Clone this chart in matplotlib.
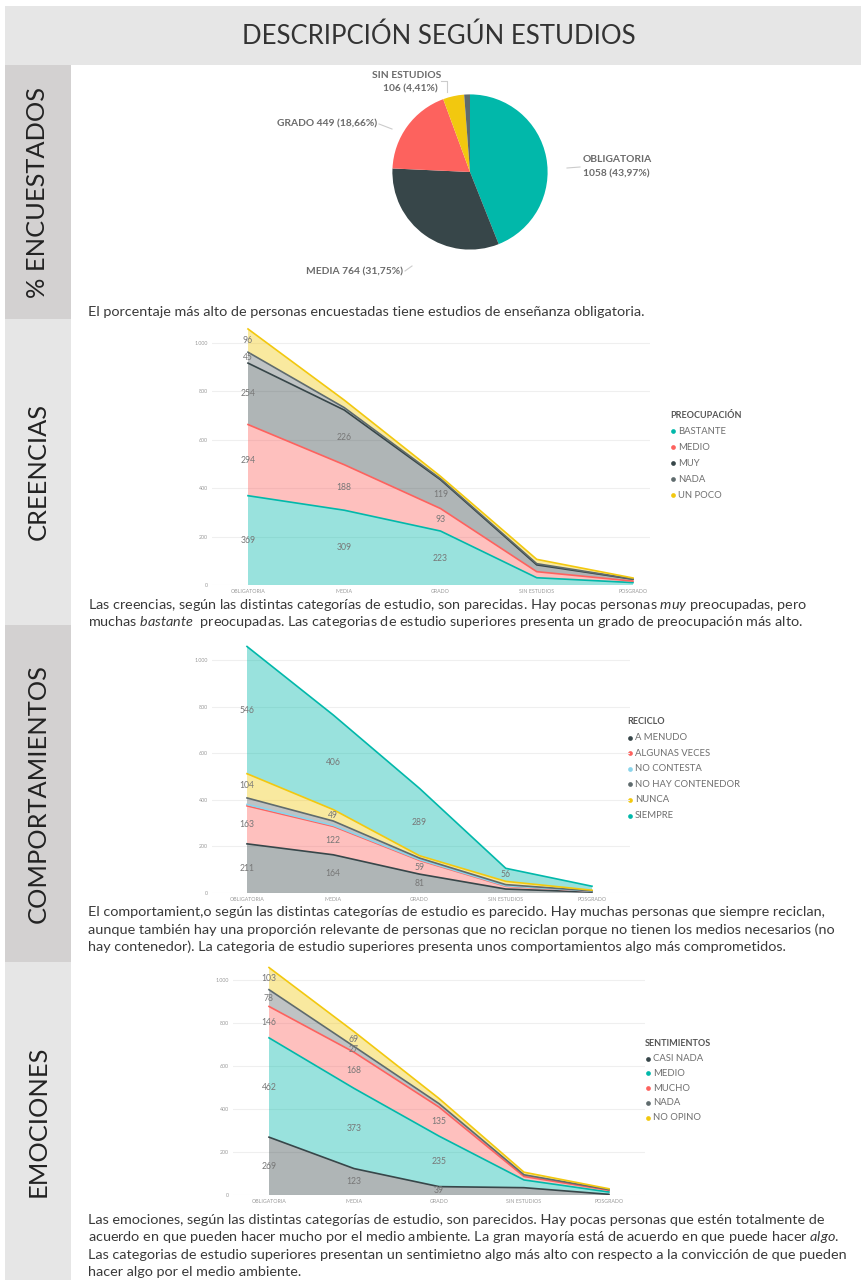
import matplotlib.pyplot as plt
from matplotlib.patches import Rectangle
import numpy as np

W, H = 862, 1280
FONT = ['Lato', 'DejaVu Sans']
plt.rcParams['font.family'] = FONT
plt.rcParams['mathtext.fontset'] = 'custom'
plt.rcParams['mathtext.rm'] = 'Lato'
plt.rcParams['mathtext.it'] = 'Lato:italic'

TEAL, DARK, RED = '#01B8AA', '#374649', '#FD625E'
YELLOW, GRAY, LBLUE = '#F2C80F', '#5F6B6D', '#8AD4EB'

# --- data ---
ESTUDIOS = ['OBLIGATORIA', 'MEDIA', 'GRADO', 'SIN ESTUDIOS', 'POSGRADO']
ENCUESTADOS = [1058, 764, 449, 106, 29]
PIE_COLORS = [TEAL, DARK, RED, YELLOW, GRAY]

PREOCUPACION = ['BASTANTE', 'MEDIO', 'MUY', 'NADA', 'UN POCO']
PREO_COLORS = [TEAL, RED, DARK, GRAY, YELLOW]
bastante = [369, 309, 223, 30, 10]
medio = [294, 188, 93, 25, 6]
muy = [254, 226, 119, 28, 8]
nada = [45, 10, 4, 5, 1]
un_poco = [96, 31, 10, 18, 4]

RECICLO = ['A MENUDO', 'ALGUNAS VECES', 'NO CONTESTA', 'NO HAY CONTENEDOR', 'NUNCA', 'SIEMPRE']
RECI_COLORS = [DARK, RED, LBLUE, GRAY, YELLOW, TEAL]
a_menudo = [211, 164, 81, 17, 4]
algunas_veces = [163, 122, 59, 12, 4]
no_contesta = [6, 4, 3, 2, 0]
no_hay_contenedor = [28, 19, 7, 5, 1]
nunca = [104, 49, 10, 14, 3]
siempre = [546, 406, 289, 56, 17]

SENTIMIENTOS = ['CASI NADA', 'MEDIO', 'MUCHO', 'NADA', 'NO OPINO']
SENT_COLORS = [DARK, TEAL, RED, GRAY, YELLOW]
casi_nada = [269, 123, 39, 34, 3]
sent_medio = [462, 373, 235, 36, 11]
mucho = [146, 168, 135, 16, 8]
sent_nada = [78, 27, 16, 8, 3]
no_opino = [103, 69, 24, 12, 4]

# (series, category) pairs that carry a value label
LABELS_PREO = [(0, 0), (1, 0), (2, 0), (3, 0), (4, 0), (0, 1), (1, 1), (2, 1),
               (0, 2), (1, 2), (2, 2)]
LABELS_RECI = [(0, 0), (1, 0), (4, 0), (5, 0), (0, 1), (1, 1), (4, 1), (5, 1),
               (0, 2), (1, 2), (5, 2), (5, 3)]
LABELS_SENT = [(0, 0), (1, 0), (2, 0), (3, 0), (4, 0), (0, 1), (1, 1), (2, 1),
               (3, 1), (4, 1), (0, 2), (1, 2), (2, 2)]

fig = plt.figure(figsize=(W / 100, H / 100), dpi=100)
bg = fig.add_axes([0, 0, 1, 1])
bg.set_xlim(0, W)
bg.set_ylim(H, 0)
bg.axis('off')


def px_axes(left, top, right, bottom):
    ax = fig.add_axes([left / W, 1 - bottom / H, (right - left) / W, (bottom - top) / H])
    ax.set_facecolor('none')
    return ax


# header and side bands
bg.add_patch(Rectangle((5, 6), W - 5, 59, color='#e6e6e6', lw=0))
bg.text(439, 36, 'DESCRIPCIÓN SEGÚN ESTUDIOS', ha='center', va='center',
        fontsize=18.5, color='#333333')
sections = [('% ENCUESTADOS', 65, 319, '#d3d1d1'),
            ('CREENCIAS', 319, 625, '#e6e6e6'),
            ('COMPORTAMIENTOS', 625, 962, '#d3d1d1'),
            ('EMOCIONES', 962, 1280, '#e6e6e6')]
for name, y0, y1, col in sections:
    bg.add_patch(Rectangle((5, y0), 66, y1 - y0, color=col, lw=0))
    bg.text(38, (y0 + y1) / 2, name, rotation=90, ha='center', va='center',
            fontsize=18.3, color='#222222')

# pie of respondents by education level
pie_ax = px_axes(373, 75, 567, 269)
pie_ax.pie(ENCUESTADOS, colors=PIE_COLORS, startangle=90, counterclock=False,
           radius=1.0, wedgeprops=dict(linewidth=0))
pie_ax.set_aspect('equal')
total = sum(ENCUESTADOS)
pct = [v / total * 100 for v in ENCUESTADOS]
fmt = lambda i: f'{ENCUESTADOS[i]} ({pct[i]:.2f}%)'.replace('.', ',')
pkw = dict(fontsize=7.4, color='#6b6b6b', fontweight='bold')
bg.text(441, 75, 'SIN ESTUDIOS', ha='right', va='center', **pkw)
bg.text(438, 89, fmt(3), ha='right', va='center', **pkw)
bg.plot([441, 447, 447], [81, 81, 92], color='#cccccc', lw=0.8)
bg.text(377, 124, 'GRADO ' + fmt(2), ha='right', va='center', **pkw)
bg.plot([379, 392], [124, 129], color='#cccccc', lw=0.8)
bg.text(583, 160, ESTUDIOS[0], ha='left', va='center', **pkw)
bg.text(583, 174, fmt(0), ha='left', va='center', **pkw)
bg.plot([567, 580], [168, 167], color='#cccccc', lw=0.8)
bg.text(403, 272, 'MEDIA ' + fmt(1), ha='right', va='center', **pkw)
bg.plot([405, 412], [271, 266], color='#cccccc', lw=0.8)


def area_chart(box, zero_py, k_py, oblig_px, posg_px, series, colors, shown):
    left, top, right, bottom = box
    ax = px_axes(left, top, right, bottom)
    ppu_x = (posg_px - oblig_px) / 4
    ppu_y = (zero_py - k_py) / 1000
    ax.set_xlim(-(oblig_px - left) / ppu_x, 4 + (right - posg_px) / ppu_x)
    ax.set_ylim(-(bottom - zero_py) / ppu_y, (zero_py - top) / ppu_y)
    x = np.arange(len(ESTUDIOS))
    vals = np.array(series)
    tops = np.cumsum(vals, axis=0)
    ax.stackplot(x, vals, colors=colors, alpha=0.4, linewidth=0, zorder=2)
    for t, c in zip(tops, colors):
        ax.plot(x, t, color=c, lw=1.2, zorder=3)
    for s, j in shown:
        ax.text(j, tops[s, j] - vals[s, j] / 2, str(vals[s, j]), ha='center', va='center',
                fontsize=6.2, color='#777777', zorder=4)
    ax.set_yticks(range(0, 1001, 200))
    ax.set_yticklabels([f'{v:,}'.replace(',', '.') for v in range(0, 1001, 200)])
    ax.set_xticks(x)
    ax.set_xticklabels(ESTUDIOS)
    ax.tick_params(length=0, labelsize=3.8, labelcolor='#9a9a9a', pad=3)
    ax.grid(axis='y', color='#efefef', lw=0.8, zorder=0)
    for sp in ax.spines.values():
        sp.set_visible(False)
    return ax


def legend(x, y, title, names, colors, step):
    bg.text(x, y, title, ha='left', va='center', fontsize=6.5, fontweight='bold', color='#555555')
    for i, (n, c) in enumerate(zip(names, colors)):
        yy = y + step * (i + 1)
        bg.plot(x + 3, yy, 'o', ms=3.4, color=c, mec='none')
        bg.text(x + 8, yy, n, ha='left', va='center', fontsize=6.8, color='#6f6f6f')


area_chart((212, 322, 650, 585), 585, 343, 248, 633,
           [bastante, medio, muy, nada, un_poco], PREO_COLORS, LABELS_PREO)
legend(670, 415, 'PREOCUPACIÓN', PREOCUPACION, PREO_COLORS, 16)

area_chart((212, 640, 630, 893), 893, 660, 247, 592,
           [a_menudo, algunas_veces, no_contesta, no_hay_contenedor, nunca, siempre],
           RECI_COLORS, LABELS_RECI)
legend(627, 722, 'RECICLO', RECICLO, RECI_COLORS, 15.6)

area_chart((233, 962, 645, 1195), 1195, 980, 269, 609,
           [casi_nada, sent_medio, mucho, sent_nada, no_opino], SENT_COLORS, LABELS_SENT)
legend(645, 1044, 'SENTIMIENTOS', SENTIMIENTOS, SENT_COLORS, 14.7)

# captions
ckw = dict(ha='left', va='center', fontsize=10.35, color='#3a3a3a')
captions = [
    (312, ['El porcentaje más alto de personas encuestadas tiene estudios de enseñanza obligatoria.']),
    (605, ['Las creencias, según las distintas categorías de estudio, son parecidas. Hay pocas personas $\\mathit{muy}$ preocupadas, pero',
           'muchas $\\mathit{bastante}$  preocupadas. Las categorias de estudio superiores presenta un grado de preocupación más alto.']),
    (912, ['El comportamient,o según las distintas categorías de estudio es parecido. Hay muchas personas que siempre reciclan,',
           'aunque también hay una proporción relevante de personas que no reciclan porque no tienen los medios necesarios (no',
           'hay contenedor). La categoria de estudio superiores presenta unos comportamientos algo más comprometidos.']),
    (1220, ['Las emociones, según las distintas categorías de estudio, son parecidos. Hay pocas personas que estén totalmente de',
            'acuerdo en que pueden hacer mucho por el medio ambiente. La gran mayoría está de acuerdo en que puede hacer $\\mathit{algo}$.',
            'Las categorias de estudio superiores presentan un sentimietno algo más alto con respecto a la convicción de que pueden',
            'hacer algo por el medio ambiente.']),
]
for y0, lines in captions:
    for i, line in enumerate(lines):
        bg.text(88, y0 + i * 17.3, line, **ckw)

fig.savefig('out.png', dpi=100)
